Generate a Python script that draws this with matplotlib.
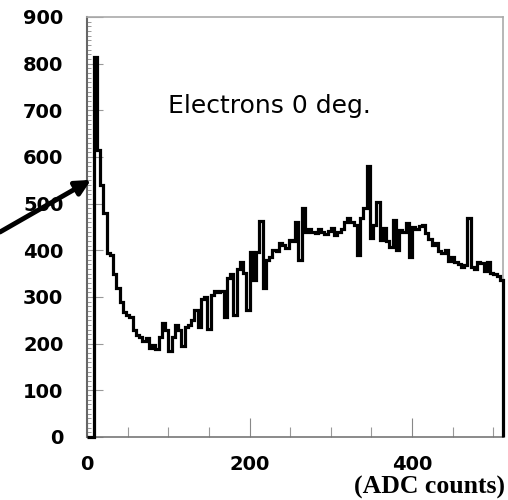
import numpy as np
import matplotlib
matplotlib.use('Agg')
import matplotlib.pyplot as plt
from matplotlib.ticker import MultipleLocator

# histogram of ADC counts, 128 bins of 4 counts each
bin_width = 4
counts = [
    0, 0, 815, 615, 540, 480, 395, 390, 350, 320,
    290, 268, 262, 258, 230, 218, 215, 205, 212, 190,
    198, 188, 215, 245, 230, 185, 215, 240, 230, 195,
    235, 240, 250, 272, 235, 295, 300, 232, 305, 312,
    310, 312, 258, 340, 350, 262, 360, 375, 352, 272,
    396, 336, 396, 462, 319, 380, 385, 400, 398, 415,
    412, 405, 422, 420, 461, 379, 490, 440, 445, 440,
    438, 445, 440, 436, 442, 447, 433, 440, 445, 460,
    469, 460, 454, 390, 470, 490, 580, 426, 455, 503,
    422, 447, 420, 407, 465, 400, 443, 440, 458, 385,
    450, 445, 452, 454, 437, 425, 411, 415, 398, 394,
    400, 378, 385, 375, 370, 364, 368, 469, 364, 360,
    375, 372, 355, 375, 352, 350, 345, 336,
]
edges = np.arange(len(counts) + 1) * bin_width

y_ticks = [0, 100, 200, 300, 400, 500, 600, 700, 800, 900]
x_ticks = [0, 200, 400]

label_text = "Electrons 0 deg."
unit_text = "(ADC counts)"

fig = plt.figure(figsize=(5.08, 5.0), dpi=100)
ax = fig.add_axes([87 / 508, 63 / 500, 416 / 508, 420 / 500])

ax.stairs(counts, edges, color='black', linewidth=2.3, clip_on=False, zorder=3)

ax.set_xlim(0, 512)
ax.set_ylim(0, 900)

ax.set_yticks(y_ticks)
ax.set_xticks(x_ticks)
ax.yaxis.set_minor_locator(MultipleLocator(10))
ax.xaxis.set_minor_locator(MultipleLocator(50))

ax.tick_params(axis='y', which='major', direction='in', length=11.5, width=0.8,
               color='#999999', pad=17, labelsize=14)
ax.tick_params(axis='y', which='minor', direction='in', length=3, width=0.7,
               color='#999999')
ax.tick_params(axis='x', which='major', direction='in', length=14, width=0.8,
               color='#888888', pad=13, labelsize=14)
ax.tick_params(axis='x', which='minor', direction='in', length=7, width=0.8,
               color='#999999')
for lab in ax.get_xticklabels() + ax.get_yticklabels():
    lab.set_fontweight('bold')

for side in ['top', 'right']:
    ax.spines[side].set_color('#aaaaaa')
    ax.spines[side].set_linewidth(1.2)
ax.spines['bottom'].set_color('#777777')
ax.spines['bottom'].set_linewidth(1.2)
ax.spines['left'].set_color('#666666')
ax.spines['left'].set_linewidth(1.5)

fig.text(168 / 508, 1 - 113 / 500, label_text, fontsize=18, family='DejaVu Sans',
         va='baseline', ha='left')
fig.text(505 / 508, 1 - 494 / 500, unit_text, fontsize=18.5, fontweight='bold',
         family='Liberation Serif', va='baseline', ha='right')

# arrow pointing at the peak shoulder
ax.annotate('', xy=(5, 551), xycoords='data',
            xytext=(0, 1 - 232 / 500), textcoords='figure fraction',
            arrowprops=dict(arrowstyle='-|>,head_length=0.9,head_width=0.45',
                            color='black', lw=3.5, shrinkA=0, shrinkB=0),
            annotation_clip=False)

fig.savefig('out.png', dpi=100)
